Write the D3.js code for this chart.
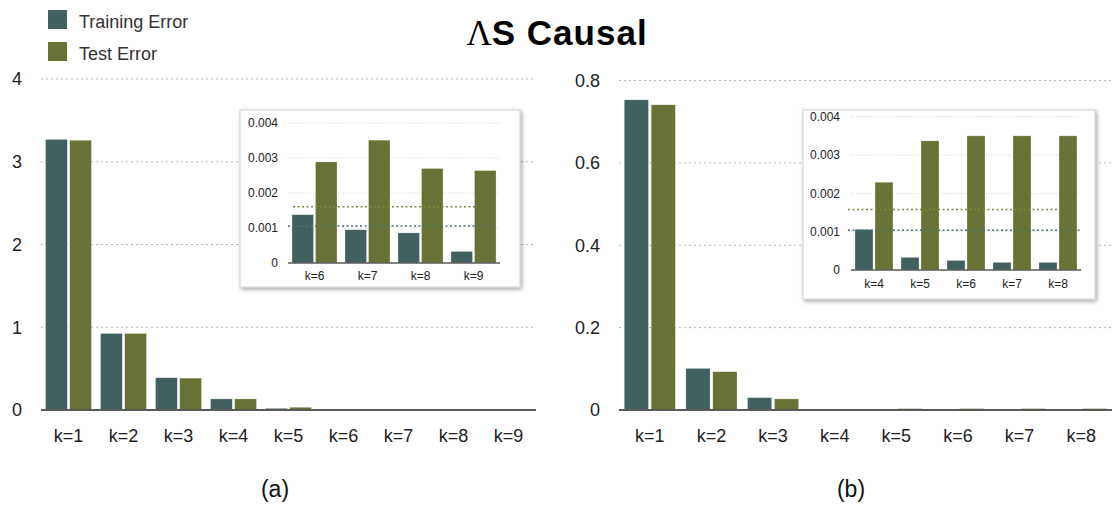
<!DOCTYPE html>
<html><head><meta charset="utf-8">
<script src="https://cdn.jsdelivr.net/npm/d3@7"></script>
<style>
html,body{margin:0;padding:0;background:#fff;}
svg{display:block;font-family:"Liberation Sans",Arial,Helvetica,sans-serif;}
</style></head>
<body>
<svg id="chart" width="1112" height="506"></svg>
<script>
// ---------- data ----------
const seriesNames = ["Training Error", "Test Error"];
const seriesColors = ["#41605f", "#687236"];

const catsA = ["k=1","k=2","k=3","k=4","k=5","k=6","k=7","k=8","k=9"];
const trainA = [3.27, 0.925, 0.39, 0.134, 0.02, 0.00138, 0.00095, 0.00086, 0.00033];
const testA  = [3.26, 0.925, 0.385, 0.134, 0.033, 0.00289, 0.00351, 0.0027, 0.00264];
const ticksA = [0, 1, 2, 3, 4];

const insetCatsA = ["k=6","k=7","k=8","k=9"];
const insetTicks = [0, 0.001, 0.002, 0.003, 0.004];
const insetRefA = [0.00106, 0.00161]; // dotted reference lines (train, test)

const catsB = ["k=1","k=2","k=3","k=4","k=5","k=6","k=7","k=8"];
const trainB = [0.753, 0.101, 0.030, 0.00106, 0.00033, 0.00025, 0.0002, 0.0002];
const testB  = [0.741, 0.093, 0.027, 0.00229, 0.00337, 0.0035, 0.0035, 0.0035];
const ticksB = [0, 0.2, 0.4, 0.6, 0.8];

const insetCatsB = ["k=4","k=5","k=6","k=7","k=8"];
const insetRefB = [0.00104, 0.00158];

const captions = ["(a)", "(b)"];

// ---------- drawing ----------
const svg = d3.select("#chart");
const defs = svg.append("defs");
const f = defs.append("filter").attr("id","shadow").attr("x","-10%").attr("y","-10%").attr("width","125%").attr("height","130%");
f.append("feDropShadow").attr("dx",1.5).attr("dy",2).attr("stdDeviation",2).attr("flood-color","#000").attr("flood-opacity",0.35);

const fmt = v => v === 0 ? "0" : String(v);

function drawBars(g, cats, train, test, x, y, subPad) {
  const xs = d3.scaleBand().domain([0,1]).range([0, x.bandwidth()]).paddingInner(subPad);
  const data = cats.map((c,i) => ({c, vals:[train[i], test[i]]}));
  const grp = g.append("g").selectAll("g").data(data).join("g")
    .attr("transform", d => `translate(${x(d.c)},0)`);
  grp.selectAll("rect").data(d => d.vals.map((v,j)=>({v,j}))).join("rect")
    .attr("x", d => xs(d.j))
    .attr("width", xs.bandwidth())
    .attr("y", d => y(d.v))
    .attr("height", d => y(0) - y(d.v))
    .attr("fill", d => seriesColors[d.j])
    .attr("stroke", "rgba(255,255,255,0.45)")
    .attr("stroke-width", 0.6);
  return xs;
}

function panel(opts) {
  const {cats, ticks, xRange, yRange, yDomain, labelX, pi, po, fontSize} = opts;
  const g = svg.append("g");
  const x = d3.scaleBand().domain(cats).range(xRange).paddingInner(pi).paddingOuter(po);
  const y = d3.scaleLinear().domain(yDomain).range(yRange);
  g.append("g").selectAll("line").data(ticks.filter(t => t !== 0)).join("line")
    .attr("x1", xRange[0]).attr("x2", xRange[1])
    .attr("y1", d => y(d)).attr("y2", d => y(d))
    .attr("stroke", opts.gridColor).attr("stroke-width", 1)
    .attr("stroke-dasharray", opts.gridDash);
  g.append("g").selectAll("text").data(ticks).join("text")
    .attr("x", labelX).attr("y", d => y(d))
    .attr("dy", "0.35em")
    .attr("text-anchor", "end")
    .attr("font-size", opts.yFontSize || fontSize).attr("fill", "#222")
    .text(fmt);
  return {g, x, y};
}

function finishPanel(p, opts) {
  const {g, x, y} = p;
  drawBars(g, opts.cats, opts.train, opts.test, x, y, opts.subPad);
  g.append("line").attr("x1", opts.xRange[0]).attr("x2", opts.xRange[1])
    .attr("y1", y(0)).attr("y2", y(0))
    .attr("stroke", "#5a5a5a").attr("stroke-width", opts.baseWidth);
  g.append("g").selectAll("text").data(opts.cats).join("text")
    .attr("x", d => x(d) + x.bandwidth()/2)
    .attr("y", opts.catY)
    .attr("text-anchor", "middle")
    .attr("font-size", opts.fontSize).attr("fill", "#222")
    .text(d => d);
}

// ---- Panel A main ----
const optA = {cats: catsA, train: trainA, test: testA, ticks: ticksA,
  xRange: [41, 536], yRange: [410, 79], yDomain: [0, 4], labelX: 22,
  pi: 0.164, po: 0.082, subPad: 0.1, fontSize: 18, yFontSize: 18, catY: 442, baseWidth: 2,
  gridColor: "#b5b5b5", gridDash: "2,3"};
const pA = panel(optA);
finishPanel(pA, optA);

// ---- Panel B main ----
const optB = {cats: catsB, train: trainB, test: testB, ticks: ticksB,
  xRange: [619, 1112], yRange: [410, 80.5], yDomain: [0, 0.8], labelX: 600,
  pi: 0.17, po: 0.085, subPad: 0.1, fontSize: 18, yFontSize: 18, catY: 442, baseWidth: 2,
  gridColor: "#b5b5b5", gridDash: "2,3"};
const pB = panel(optB);
finishPanel(pB, optB);

// ---- Insets ----
function inset(box, opts, refs) {
  svg.append("rect").attr("x", box[0]).attr("y", box[1])
    .attr("width", box[2]-box[0]).attr("height", box[3]-box[1])
    .attr("fill", "#fff").attr("stroke", "#d0d0d0").attr("stroke-width", 1)
    .attr("filter", "url(#shadow)");
  const p = panel(opts);
  finishPanel(p, opts);
  const refColors = ["#4f6f70", "#7d8840"];
  refs.forEach((r, i) => {
    p.g.append("line")
      .attr("x1", opts.refX[i][0]).attr("x2", opts.refX[i][1])
      .attr("y1", p.y(r)).attr("y2", p.y(r))
      .attr("stroke", refColors[i]).attr("stroke-width", 1.5)
      .attr("stroke-dasharray", "2,2.5");
  });
}

const sliceA = catsA.map((c,i)=>i).filter(i => insetCatsA.includes(catsA[i]));
inset([240, 110, 520, 287], {
  cats: insetCatsA, train: sliceA.map(i=>trainA[i]), test: sliceA.map(i=>testA[i]),
  ticks: insetTicks, xRange: [288, 500], yRange: [263, 123], yDomain: [0, 0.004],
  labelX: 278, pi: 0.15, po: 0.075, subPad: 0.085, fontSize: 12, catY: 280, baseWidth: 1.5,
  gridColor: "#d6d6d6", gridDash: "1,1.5", refX: [[288, 492],[293, 475]]
}, insetRefA);

const sliceB = catsB.map((c,i)=>i).filter(i => insetCatsB.includes(catsB[i]));
inset([803, 110, 1095, 299], {
  cats: insetCatsB, train: sliceB.map(i=>trainB[i]), test: sliceB.map(i=>testB[i]),
  ticks: insetTicks, xRange: [851, 1081], yRange: [270, 116.7], yDomain: [0, 0.004],
  labelX: 840, pi: 0.174, po: 0.087, subPad: 0.1, fontSize: 12, catY: 288, baseWidth: 1.5,
  gridColor: "#d6d6d6", gridDash: "1,1.5", refX: [[848, 1080],[848, 1057]]
}, insetRefB);

// ---- Legend ----
const leg = svg.append("g");
seriesNames.forEach((n, i) => {
  const yy = i === 0 ? 10 : 42;
  leg.append("rect").attr("x", 48).attr("y", yy).attr("width", 19).attr("height", 19)
    .attr("fill", seriesColors[i]);
  leg.append("text").attr("x", 79).attr("y", yy + 17.5)
    .attr("font-size", 18).attr("fill", "#333").text(n);
});

// ---- Title ----
const title = svg.append("text").attr("x", 557).attr("y", 45)
  .attr("text-anchor", "middle").attr("font-size", 35).attr("font-weight", "bold").attr("fill", "#000");
title.append("tspan").attr("font-family", "'Liberation Serif','Times New Roman',serif").attr("font-weight", "normal").text("Λ");
title.append("tspan").attr("letter-spacing", "1").text("S Causal");

// ---- Captions ----
svg.selectAll("text.cap").data(captions).join("text").attr("class","cap")
  .attr("x", (d,i) => i === 0 ? 275 : 851).attr("y", 497)
  .attr("text-anchor", "middle").attr("font-size", 23).attr("fill", "#111")
  .text(d => d);
</script>
</body></html>
